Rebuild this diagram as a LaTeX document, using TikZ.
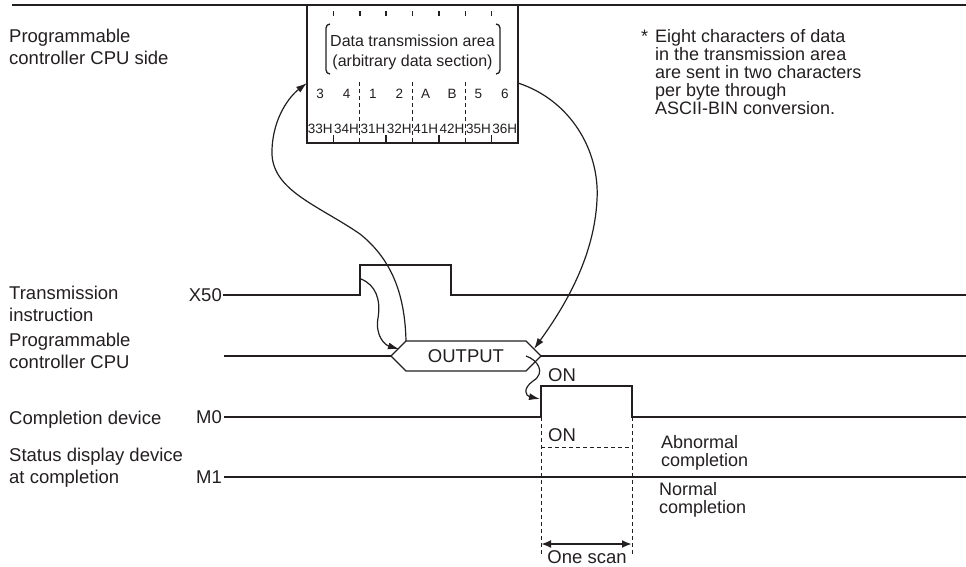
\documentclass[tikz,border=0pt]{standalone}
\usepackage{fontspec}
\setmainfont{Liberation Sans}
\usetikzlibrary{arrows.meta}
\definecolor{ink}{HTML}{231F20}
\begin{document}
\begin{tikzpicture}[x=1pt,y=-1pt,
  lbl/.style={font=\fontsize{18.5}{22.5}\selectfont, text=ink, inner sep=0pt, align=left},
  note/.style={font=\fontsize{18}{18}\selectfont, text=ink, inner sep=0pt, align=left},
  boxtxt/.style={font=\fontsize{16}{20}\selectfont, text=ink, inner sep=0pt},
  cell/.style={font=\fontsize{13.5}{16}\selectfont, text=ink, inner sep=0pt, anchor=base},
  sig/.style={draw=ink, line width=1.3pt},
  heavy/.style={draw=ink, line width=2.2pt},
  dsh/.style={draw=ink, line width=1pt, dash pattern=on 4pt off 3pt},
  flow/.style={draw=ink, line width=1.2pt, -{Latex[length=11pt,width=7pt]}},
  brk/.style={draw=ink, line width=1.3pt}
]
\useasboundingbox (0,0) rectangle (966,566);

% top rule
\coordinate (ruleL) at (12,5);
\coordinate (ruleR) at (966,5);
\draw[heavy] (ruleL) -- (ruleR);

% buffer box
\node[draw=ink, line width=2pt, minimum width=211pt, minimum height=138pt, inner sep=0pt] (buf) at (412.5,74) {};
\foreach \i in {1,...,7} {
  \pgfmathsetmacro{\xx}{307+26.375*\i}
  \draw[draw=ink, line width=1.5pt] (\xx,11) -- (\xx,16);
}
\foreach \i in {2,4,6} {
  \pgfmathsetmacro{\xx}{307+26.375*\i}
  \draw[dsh] (\xx,82) -- (\xx,143);
}
\foreach \i in {1,3,5,7} {
  \pgfmathsetmacro{\xx}{307+26.375*\i}
  \draw[draw=ink, line width=1.5pt] (\xx,135) -- (\xx,143);
}
\node[boxtxt, anchor=base] (dta) at (412.5,46) {Data transmission area};
\node[boxtxt, anchor=base] (ads) at (412.5,66) {(arbitrary data section)};
\draw[brk] (330,24) to[out=180,in=90] (326,28) -- (326,70) to[out=-90,in=180] (330,74);
\draw[brk] (496,24) to[out=0,in=90] (500,28) -- (500,70) to[out=-90,in=0] (496,74);
\foreach \c [count=\i] in {3,4,1,2,A,B,5,6} {
  \pgfmathsetmacro{\xx}{307+26.375*(\i-0.5)}
  \node[cell] at (\xx,98) {\c};
}
\foreach \c [count=\i] in {33H,34H,31H,32H,41H,42H,35H,36H} {
  \pgfmathsetmacro{\xx}{307+26.375*(\i-0.5)}
  \node[cell] at (\xx,133) {\c};
}

% left labels (base anchor = last line's baseline)
\node[lbl, anchor=base west] (side) at (9,64.5) {Programmable\\controller CPU side};
\node[lbl, anchor=base west] (ti) at (9,321.5) {Transmission\\instruction};
\node[lbl, anchor=base west] (pc) at (9,368.5) {Programmable\\controller CPU};
\node[lbl, anchor=base west] (cd) at (9,424) {Completion device};
\node[lbl, anchor=base west] (sd) at (9,483.5) {Status display device\\at completion};

% note
\node[note, anchor=base west] (star) at (641,42) {*};
\node[note, anchor=base west] (notetxt) at (655,114) {Eight characters of data\\in the transmission area\\are sent in two characters\\per byte through\\ASCII-BIN conversion.};

% X50 signal
\node[lbl, anchor=base east] (x50) at (222,301) {X50};
\draw[sig] (x50.east |- 0,295) ++(1,0) -- (360,295) -- (360,265) -- (451,265) -- (451,295) -- (966,295);

% CPU line and OUTPUT hexagon
\coordinate (hL) at (391,356);
\coordinate (hTL) at (406,341);
\coordinate (hTR) at (526,341);
\coordinate (hR) at (541,356);
\coordinate (hBR) at (526,371);
\coordinate (hBL) at (406,371);
\coordinate (cpuS) at (224,356);
\coordinate (cpuE) at (966,356);
\draw[heavy] (cpuS) -- (hL);
\draw[heavy] (hR) -- (cpuE);
\draw[sig] (hL) -- (hTL) -- (hTR) -- (hR) -- (hBR) -- (hBL) -- cycle;
\node[lbl] (out) at (466,356) {OUTPUT};

% M0 signal
\node[lbl, anchor=base east] (m0) at (222,423) {M0};
\coordinate (m0up) at (541,386);
\coordinate (m0dn) at (632,386);
\coordinate (m0edge) at (540,399);
\draw[sig] (224,417) -- (541,417) -- (m0up) -- (m0dn) -- (632,417) -- (966,417);

% M1 signal
\node[lbl, anchor=base east] (m1) at (222,483) {M1};
\draw[heavy] (224,477) -- (966,477);

% dashed
\draw[dsh] (541,417) -- (541,556);
\draw[dsh] (632,417) -- (632,556);
\draw[dsh] (541,447) -- (632,447);
\node[lbl] (on1) at (562,375) {ON};
\node[lbl] (on2) at (562,435) {ON};
\node[note, anchor=base west] (abn) at (661,466) {Abnormal\\completion};
\node[note, anchor=base west] (nrm) at (659,513) {Normal\\completion};

% one scan
\coordinate (osL) at (541,544);
\coordinate (osR) at (632,544);
\draw[draw=ink, line width=2pt, {Latex[length=10pt,width=8pt]}-{Latex[length=10pt,width=8pt]}] (osL) -- (osR);
\node[lbl, anchor=base] (os) at (587,563) {One scan};

% flow arrows
\coordinate (x50top) at (361,279);
\coordinate (a1end) at (399,349);
\draw[flow] (x50top) .. controls (376,285) and (381,300) .. (378,318)
  .. controls (375,336) and (385,345) .. (a1end);
\coordinate (bufL) at (307,83);
\draw[flow] (hTL) .. controls (405,300) and (395,262) .. (360,234)
  .. controls (318,205) and (270,190) .. (272,150)
  .. controls (273,117) and (290,96) .. (bufL);
\coordinate (bufR) at (518,83);
\coordinate (a3end) at (534,349);
\draw[flow] (bufR) .. controls (570,100) and (600,150) .. (597,200)
  .. controls (594,260) and (562,310) .. (a3end);
\coordinate (a4s) at (526,356);
\draw[flow] (a4s) .. controls (538,360) and (546,373) .. (533,381)
  .. controls (522,389) and (526,396) .. (m0edge);
\end{tikzpicture}
\end{document}
